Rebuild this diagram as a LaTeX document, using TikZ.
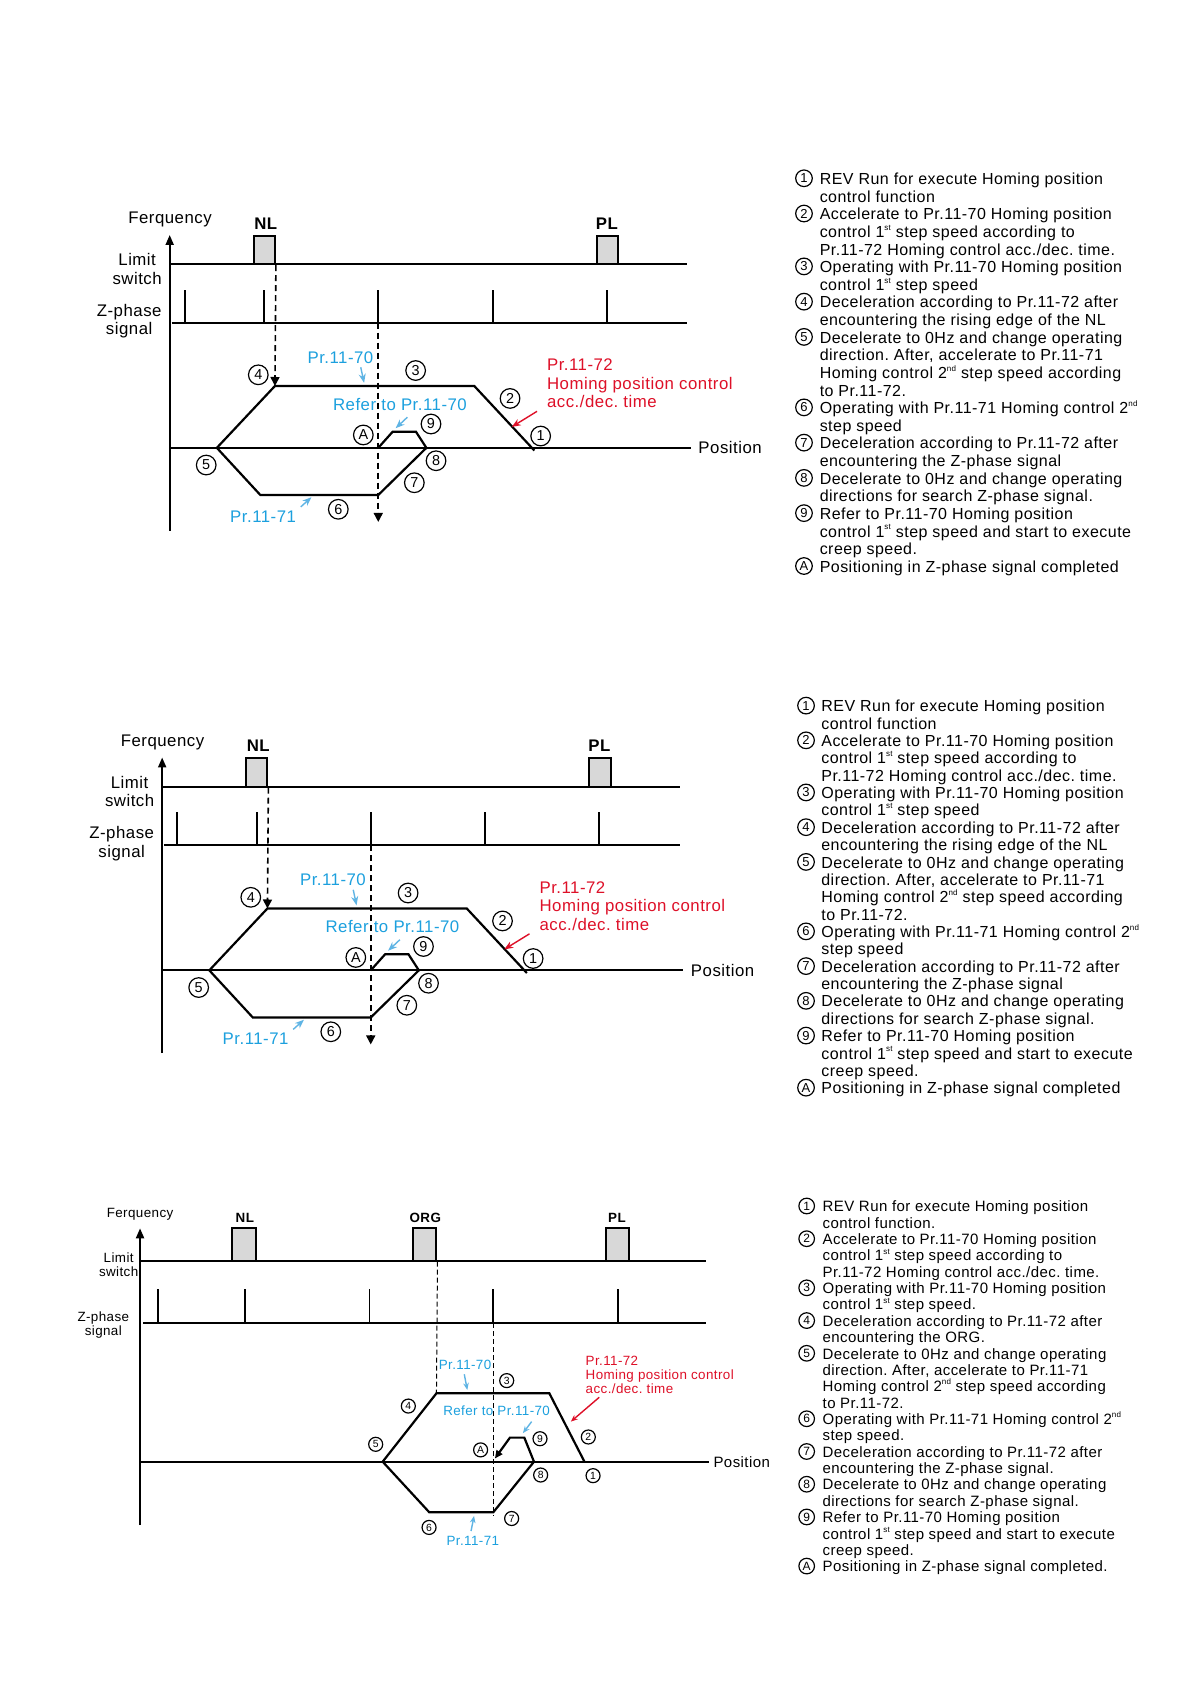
\documentclass[tikz,border=0pt]{standalone}
\usepackage{fontspec}
\setmainfont{Liberation Sans}[LetterSpace=3]
\usetikzlibrary{arrows.meta,positioning}
\definecolor{prblue}{RGB}{28,160,222}
\definecolor{tipblue}{RGB}{95,180,228}
\definecolor{prred}{RGB}{222,16,40}
\definecolor{boxgray}{RGB}{216,216,216}
\newcommand\dfont{\fontsize{8.4}{9.3}\selectfont}
\newcommand\sfont{\fontsize{6.7}{7}\selectfont}
\newcommand\ordsup[1]{\smash{\raisebox{0.45em}{\fontsize{4}{4}\selectfont #1}}}
\frenchspacing

\begin{document}
\begin{tikzpicture}[x=0.537pt,y=-0.537pt,
    sig/.style={line width=1pt},
    yaxis/.style={line width=1pt,-{Triangle[length=5pt,width=4pt]}},
    curve/.style={line width=1.1pt},
    guide/.style={line width=0.8pt,dash pattern=on 3pt off 2pt,-{Triangle[length=4.5pt,width=4.5pt]}},
    thinguide/.style={line width=0.5pt,dash pattern=on 2.5pt off 1.5pt},
    swbox/.style={draw,line width=1pt,fill=boxgray,inner sep=0pt,minimum width=10.7pt,minimum height=14.3pt},
    cn/.style={circle,draw,line width=0.6pt,inner sep=0pt,minimum size=9.8pt,font=\fontsize{7.2}{7.2}\selectfont},
    lbl/.style={inner sep=0pt,align=center,font=\dfont},
    prl/.style={lbl,text=prblue},
    bnote/.style={tipblue,line width=0.7pt,-{Stealth[length=4.5pt,width=3.5pt]}},
    rnote/.style={prred,line width=0.7pt,-{Stealth[length=4.5pt,width=3.5pt]}},
    lnum/.style={circle,draw,line width=0.6pt,inner sep=0pt,minimum size=8.3pt,font=\fontsize{6.5}{6.5}\selectfont},
    litem/.style={anchor=north west,inner sep=0pt,align=left}]
\fill[white] (0,0) rectangle (1108,1568);

% homing on NL, drawn twice
\foreach \k/\dx/\dy in {a/0/0,b/-7/486.5}{
\begin{scope}[shift={(\dx,\dy)}]
  \coordinate (o\k) at (158,494);
  \coordinate (top\k) at (158,218.8);
  \draw[yaxis] (o\k) -- (top\k);
  \node[lbl] (fq\k) at (158.3,204.8) {Ferquency};
  \node[lbl] (ls\k) at (127.7,250.6) {Limit\\switch};
  \node[lbl] (zp\k) at (120.3,299.2) {Z-phase\\signal};
  % limit switch
  \coordinate (l0\k) at (158,246.1);
  \coordinate (l1\k) at (640,246.1);
  \draw[sig] (l0\k) -- (l1\k);
  \node[swbox] (nl\k) at (246,232.7) {};
  \node[swbox] (pl\k) at (565.5,232.7) {};
  \node[lbl,font=\dfont\bfseries] (nlt\k) at (247.5,207.9) {NL};
  \node[lbl,font=\dfont\bfseries] (plt\k) at (565,207.9) {PL};
  % z-phase
  \coordinate (z0\k) at (159.8,300.4);
  \coordinate (z1\k) at (640,300.4);
  \draw[sig] (z0\k) -- (z1\k);
  \foreach \p in {172.2,246.1,352.2,459,565}
    \draw[sig] (\p,300.4) -- (\p,270);
  % position axis
  \coordinate (x0\k) at (158,417);
  \coordinate (x1\k) at (643,417);
  \draw[sig] (x0\k) -- (x1\k);
  \node[lbl,anchor=west] (pos\k) at (650,417) {Position};
  % speed profile
  \coordinate (p5\k) at (201.9,417);
  \coordinate (p4\k) at (256,359.4);
  \coordinate (p2\k) at (441.6,359.4);
  \coordinate (p1\k) at (497.6,419.5);
  \coordinate (p6\k) at (242.4,460.9);
  \coordinate (p7\k) at (352.2,460.9);
  \coordinate (p8\k) at (397,417);
  \coordinate (pa\k) at (352.2,417);
  \coordinate (p9\k) at (365.6,402);
  \coordinate (p9r\k) at (387.3,402);
  \draw[curve] (p1\k) -- (p2\k) -- (p4\k) -- (p5\k) -- (p6\k) -- (p7\k) -- (p8\k);
  \draw[curve] (pa\k) -- (p9\k) -- (p9r\k) -- (p8\k);
  % texts
  \node[prl] (r70\k) at (317,333) {Pr.11-70};
  \node[prl] (rf\k) at (372.4,376.5) {Refer to Pr.11-70};
  \node[prl] (r71\k) at (245,481) {Pr.11-71};
  \node[lbl,align=left,anchor=west,text=prred] (r72\k) at (509,357) {Pr.11-72\\Homing position control\\acc./dec. time};
  \node[cn] (c1\k) at (503.4,406) {1};
  \node[cn] (c2\k) at (474.9,371) {2};
  \node[cn] (c3\k) at (387,345) {3};
  \node[cn] (c4\k) at (240.5,349) {4};
  \node[cn] (c5\k) at (192,433) {5};
  \node[cn] (c6\k) at (315,474.2) {6};
  \node[cn] (c7\k) at (385.8,449.5) {7};
  \node[cn] (c8\k) at (406,429) {8};
  \node[cn] (c9\k) at (401.3,394.8) {9};
  \node[cn] (cA\k) at (338.3,405) {A};
  % pointers
  \coordinate (t70\k) at (335.9,342);
  \coordinate (h70\k) at (339,356.5);
  \coordinate (tcr\k) at (379.3,388.5);
  \coordinate (hcr\k) at (368.4,398.7);
  \coordinate (t71\k) at (280,472);
  \coordinate (h71\k) at (290,463);
  \coordinate (t72\k) at (500,383);
  \coordinate (h72\k) at (476.5,397.5);
  \draw[bnote] (t70\k) -- (h70\k);
  \draw[bnote] (tcr\k) -- (hcr\k);
  \draw[bnote] (t71\k) -- (h71\k);
  \draw[rnote] (t72\k) -- (h72\k);
  % guides
  \coordinate (zg\k) at (352.2,300.4);
  \coordinate (ze\k) at (352.2,486);
  \draw[guide] (nl\k.south east) -- (p4\k);
  \draw[guide] (zg\k) -- (ze\k);
\end{scope}}

% homing on ORG
\coordinate (o3) at (130.4,1420);
\coordinate (top3) at (130.4,1143.7);
\draw[yaxis] (o3) -- (top3);
\node[lbl,font=\sfont] (fq3) at (130.4,1130.3) {Ferquency};
\node[lbl,font=\sfont] (ls3) at (110.5,1177.5) {Limit\\switch};
\node[lbl,font=\sfont] (zp3) at (96.2,1233.4) {Z-phase\\signal};
\coordinate (l03) at (130.4,1173.8);
\coordinate (l13) at (657,1173.8);
\draw[sig] (l03) -- (l13);
\node[swbox,minimum width=11.7pt,minimum height=16.2pt] (nl3) at (227.2,1158.75) {};
\node[swbox,minimum width=11.7pt,minimum height=16.2pt] (org3) at (395.5,1158.75) {};
\node[swbox,minimum width=11.7pt,minimum height=16.2pt] (pl3) at (575,1158.75) {};
\node[lbl,font=\sfont\bfseries] (nlt3) at (228,1134) {NL};
\node[lbl,font=\sfont\bfseries] (orgt3) at (396,1134) {ORG};
\node[lbl,font=\sfont\bfseries] (plt3) at (574.5,1134) {PL};
\coordinate (z03) at (133.4,1232);
\coordinate (z13) at (657,1232);
\draw[sig] (z03) -- (z13);
\foreach \p in {146.9,228.2,459.3,575.5}
  \draw[sig] (\p,1232) -- (\p,1200.5);
\draw[line width=0.6pt] (344,1232) -- (344,1200.5);
\coordinate (x03) at (130.4,1361);
\coordinate (x13) at (660,1361);
\draw[sig] (x03) -- (x13);
\node[lbl,anchor=west,font=\fontsize{7.5}{8}\selectfont] (pos3) at (664,1361) {Position};
\coordinate (q5) at (356.3,1361);
\coordinate (q4) at (406.4,1297.3);
\coordinate (q2) at (511.5,1297.3);
\coordinate (q1) at (544.2,1361);
\coordinate (q6) at (399.7,1408.1);
\coordinate (q7) at (459.3,1408.1);
\coordinate (q8) at (497.2,1361);
\coordinate (q9) at (488.2,1338.6);
\coordinate (q9l) at (474.8,1338.6);
\coordinate (qa) at (460.8,1358);
\draw[curve,-{Triangle[length=4pt,width=3.5pt]}] (q1) -- (q2) -- (q4) -- (q5) -- (q6) -- (q7) -- (q8) -- (q9) -- (q9l) -- (qa);
\node[prl,font=\sfont] (r703) at (433,1271) {Pr.11-70};
\node[prl,font=\sfont] (rf3) at (462.4,1313.5) {Refer to Pr.11-70};
\node[prl,font=\sfont] (r713) at (440.3,1434.9) {Pr.11-71};
\node[lbl,font=\sfont,align=left,anchor=west,text=prred] (r723) at (545,1280) {Pr.11-72\\Homing position control\\acc./dec. time};
\node[cn,minimum size=7pt,font=\fontsize{5.2}{5.2}\selectfont] (c13) at (552.2,1374) {1};
\node[cn,minimum size=7pt,font=\fontsize{5.2}{5.2}\selectfont] (c23) at (547.8,1338) {2};
\node[cn,minimum size=7pt,font=\fontsize{5.2}{5.2}\selectfont] (c33) at (471.8,1285.5) {3};
\node[cn,minimum size=7pt,font=\fontsize{5.2}{5.2}\selectfont] (c43) at (380.2,1309.2) {4};
\node[cn,minimum size=7pt,font=\fontsize{5.2}{5.2}\selectfont] (c53) at (349.8,1344.8) {5};
\node[cn,minimum size=7pt,font=\fontsize{5.2}{5.2}\selectfont] (c63) at (399.5,1422.2) {6};
\node[cn,minimum size=7pt,font=\fontsize{5.2}{5.2}\selectfont] (c73) at (476.4,1413.9) {7};
\node[cn,minimum size=7pt,font=\fontsize{5.2}{5.2}\selectfont] (c83) at (503.4,1373.4) {8};
\node[cn,minimum size=7pt,font=\fontsize{5.2}{5.2}\selectfont] (c93) at (502.8,1339.6) {9};
\node[cn,minimum size=7pt,font=\fontsize{5.2}{5.2}\selectfont] (cA3) at (447.5,1350) {A};
\coordinate (t703) at (432.3,1279.6);
\coordinate (h703) at (435.1,1294.2);
\coordinate (tcr3) at (495,1323.7);
\coordinate (hcr3) at (486.9,1334.4);
\coordinate (t713) at (438.6,1425.5);
\coordinate (h713) at (441.4,1411.5);
\coordinate (t723) at (558,1301);
\coordinate (h723) at (531.5,1323.7);
\draw[bnote,-{Stealth[length=3.5pt,width=2.8pt]}] (t703) -- (h703);
\draw[bnote,-{Stealth[length=3.5pt,width=2.8pt]}] (tcr3) -- (hcr3);
\draw[bnote,-{Stealth[length=3.5pt,width=2.8pt]}] (t713) -- (h713);
\draw[rnote,-{Stealth[length=3.5pt,width=2.8pt]}] (t723) -- (h723);
\coordinate (zg3) at (459.3,1232);
\coordinate (ze3) at (459.3,1412);
\draw[thinguide] (org3.south east) -- (q4);
\draw[thinguide] (zg3) -- (ze3);

% legends
\foreach \g/\cx/\tx/\yo/\dl/\bs in {a/748.6/762.9/166/16.41/8.81,b/750.5/764.4/657/16.17/8.69}{
  \foreach \n/\l/\txt in {
    1/0/{REV Run for execute Homing position\\control function},
    2/2/{Accelerate to Pr.11-70 Homing position\\control 1\ordsup{st} step speed according to\\Pr.11-72 Homing control acc./dec. time.},
    3/5/{Operating with Pr.11-70 Homing position\\control 1\ordsup{st} step speed},
    4/7/{Deceleration according to Pr.11-72 after\\encountering the rising edge of the NL},
    5/9/{Decelerate to 0Hz and change operating\\direction. After, accelerate to Pr.11-71\\Homing control 2\ordsup{nd} step speed according\\to Pr.11-72.},
    6/13/{Operating with Pr.11-71 Homing control 2\ordsup{nd}\\step speed},
    7/15/{Deceleration according to Pr.11-72 after\\encountering the Z-phase signal},
    8/17/{Decelerate to 0Hz and change operating\\directions for search Z-phase signal.},
    9/19/{Refer to Pr.11-70 Homing position\\control 1\ordsup{st} step speed and start to execute\\creep speed.},
    A/22/{Positioning in Z-phase signal completed}}{
    \node[lnum] (n\n\g) at (\cx,\yo+\l*\dl) {\n};
    \node[litem,font=\fontsize{8}{\bs}\selectfont] (i\n\g) at (\tx,\yo+\l*\dl-6) {\strut\txt};
  }
}
\foreach \n/\l/\txt in {
    1/0/{REV Run for execute Homing position\\control function.},
    2/2/{Accelerate to Pr.11-70 Homing position\\control 1\ordsup{st} step speed according to\\Pr.11-72 Homing control acc./dec. time.},
    3/5/{Operating with Pr.11-70 Homing position\\control 1\ordsup{st} step speed.},
    4/7/{Deceleration according to Pr.11-72 after\\encountering the ORG.},
    5/9/{Decelerate to 0Hz and change operating\\direction. After, accelerate to Pr.11-71\\Homing control 2\ordsup{nd} step speed according\\to Pr.11-72.},
    6/13/{Operating with Pr.11-71 Homing control 2\ordsup{nd}\\step speed.},
    7/15/{Deceleration according to Pr.11-72 after\\encountering the Z-phase signal.},
    8/17/{Decelerate to 0Hz and change operating\\directions for search Z-phase signal.},
    9/19/{Refer to Pr.11-70 Homing position\\control 1\ordsup{st} step speed and start to execute\\creep speed.},
    A/22/{Positioning in Z-phase signal completed.}}{
  \node[lnum,minimum size=7.8pt,font=\fontsize{6}{6}\selectfont] (n\n c) at (751.1,1122.9+\l*15.24) {\n};
  \node[litem,font=\fontsize{7.5}{8.18}\selectfont] (i\n c) at (765.6,1122.9+\l*15.24-5.7) {\strut\txt};
}
\end{tikzpicture}
\end{document}
